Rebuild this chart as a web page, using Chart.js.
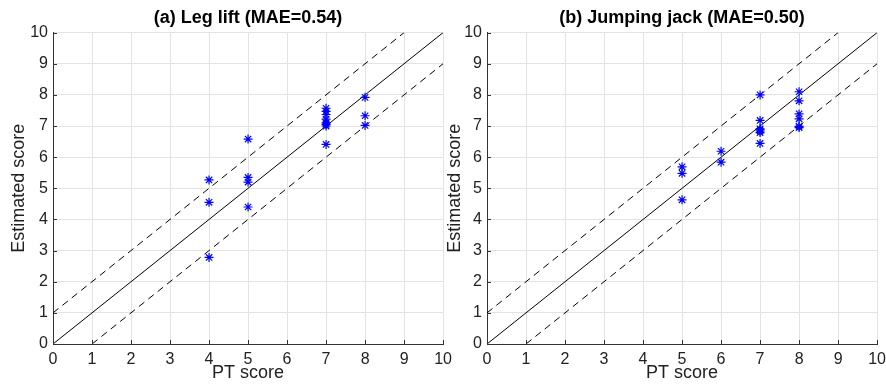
<!DOCTYPE html>
<html>
<head>
<meta charset="utf-8">
<script src="https://cdn.jsdelivr.net/npm/chart.js@4"></script>
<style>
  body { margin: 0; background: #fff; overflow: hidden; width: 886px; height: 384px; position: relative; }
  .panel { position: absolute; top: 0; height: 384px; }
</style>
</head>
<body>
<div class="panel" style="left:0px; width:458px"><canvas id="chartA"></canvas></div>
<div class="panel" style="left:436px; width:456px"><canvas id="chartB"></canvas></div>
<script>
// dados
const titleA = '(a) Leg lift (MAE=0.54)';
const titleB = '(b) Jumping jack (MAE=0.50)';

const legPT = [4, 4, 4, 5, 5, 5, 5, 7, 7, 7, 7, 7, 7, 7, 7, 8, 8, 8];
const legEst = [5.27, 4.55, 2.78, 6.58, 5.35, 5.2, 4.4, 7.57, 7.47, 7.37, 7.22, 7.1, 7.05, 7.0, 6.41, 7.92, 7.33, 7.02];

const jackPT = [5, 5, 5, 6, 6, 7, 7, 7, 7, 7, 7, 7, 8, 8, 8, 8, 8, 8];
const jackEst = [5.69, 5.48, 4.63, 6.19, 5.84, 8.0, 7.18, 6.91, 6.88, 6.84, 6.79, 6.44, 8.1, 7.81, 7.39, 7.23, 6.99, 6.95];

// linhas de referência (y = x, y = x + 1, y = x - 1)
const idealX = [0, 10];
const idealY = [0, 10];
const upperX = [0, 9];
const upperY = [1, 10];
const lowerX = [1, 10];
const lowerY = [0, 9];

const tickValues = [0, 1, 2, 3, 4, 5, 6, 7, 8, 9, 10];
const xLabel = 'PT score';
const yLabel = 'Estimated score';

const fontFamily = "'Liberation Sans', Arial, Helvetica, sans-serif";

function pts(xs, ys) {
    return xs.map((x, i) => ({ x: x, y: ys[i] }));
}

// desenha os traços dos ticks para dentro, como no MATLAB
const innerTicks = {
    id: 'innerTicks',
    afterDatasetsDraw(chart) {
        const c = chart.ctx;
        const xs = chart.scales.x, ys = chart.scales.y;
        const a = chart.chartArea;
        c.save();
        c.strokeStyle = '#333';
        c.lineWidth = 1;
        c.beginPath();
        tickValues.forEach(v => {
            const px = Math.round(xs.getPixelForValue(v)) + 0.5;
            c.moveTo(px, a.bottom); c.lineTo(px, a.bottom - 4);
            const py = Math.round(ys.getPixelForValue(v)) + 0.5;
            c.moveTo(a.left, py); c.lineTo(a.left + 4, py);
        });
        c.stroke();
        c.restore();
    }
};

function makeChart(id, title, xs, ys, yWidth) {
    const ctx = document.getElementById(id);
    new Chart(ctx, {
        type: 'scatter',
        data: {
            datasets: [
                {
                    data: pts(xs, ys),
                    pointStyle: 'star',
                    pointRadius: 4.5,
                    borderColor: '#0000ff',
                    backgroundColor: '#0000ff',
                    borderWidth: 1.2
                },
                {
                    type: 'line',
                    data: pts(idealX, idealY),
                    borderColor: '#000',
                    borderWidth: 1,
                    pointRadius: 0
                },
                {
                    type: 'line',
                    data: pts(upperX, upperY),
                    borderColor: '#000',
                    borderWidth: 1,
                    borderDash: [7, 5],
                    pointRadius: 0
                },
                {
                    type: 'line',
                    data: pts(lowerX, lowerY),
                    borderColor: '#000',
                    borderWidth: 1,
                    borderDash: [7, 5],
                    pointRadius: 0
                }
            ]
        },
        options: {
            responsive: true,
            maintainAspectRatio: false,
            animation: false,
            layout: { padding: 0 },
            scales: {
                x: {
                    type: 'linear',
                    min: 0, max: 10,
                    afterBuildTicks: s => { s.ticks = tickValues.map(v => ({ value: v })); },
                    afterFit: s => { s.height = 40; },
                    ticks: { color: '#222', font: { family: fontFamily, size: 16 }, padding: 6, maxRotation: 0 },
                    grid: { color: '#e3e3e3', drawTicks: false },
                    border: { color: '#333', width: 1 },
                    title: { display: true, text: xLabel, color: '#222', font: { family: fontFamily, size: 18 }, padding: { top: 0, bottom: 0 } }
                },
                y: {
                    type: 'linear',
                    min: 0, max: 10,
                    afterBuildTicks: s => { s.ticks = tickValues.map(v => ({ value: v })); },
                    afterFit: s => { s.width = yWidth; },
                    ticks: { color: '#222', font: { family: fontFamily, size: 16 }, padding: 5 },
                    grid: { color: '#e3e3e3', drawTicks: false },
                    border: { color: '#333', width: 1 },
                    title: { display: true, text: yLabel, color: '#222', font: { family: fontFamily, size: 18 }, padding: { top: 8, bottom: 0 } }
                }
            },
            plugins: {
                legend: { display: false },
                tooltip: { enabled: false },
                title: {
                    display: true,
                    fullSize: false,
                    text: title,
                    color: '#000',
                    font: { family: fontFamily, size: 18, weight: 'bold' },
                    padding: { top: 7, bottom: 4 }
                }
            }
        },
        plugins: [innerTicks]
    });
}

makeChart('chartA', titleA, legPT, legEst, 53);
makeChart('chartB', titleB, jackPT, jackEst, 51);
</script>
</body>
</html>
